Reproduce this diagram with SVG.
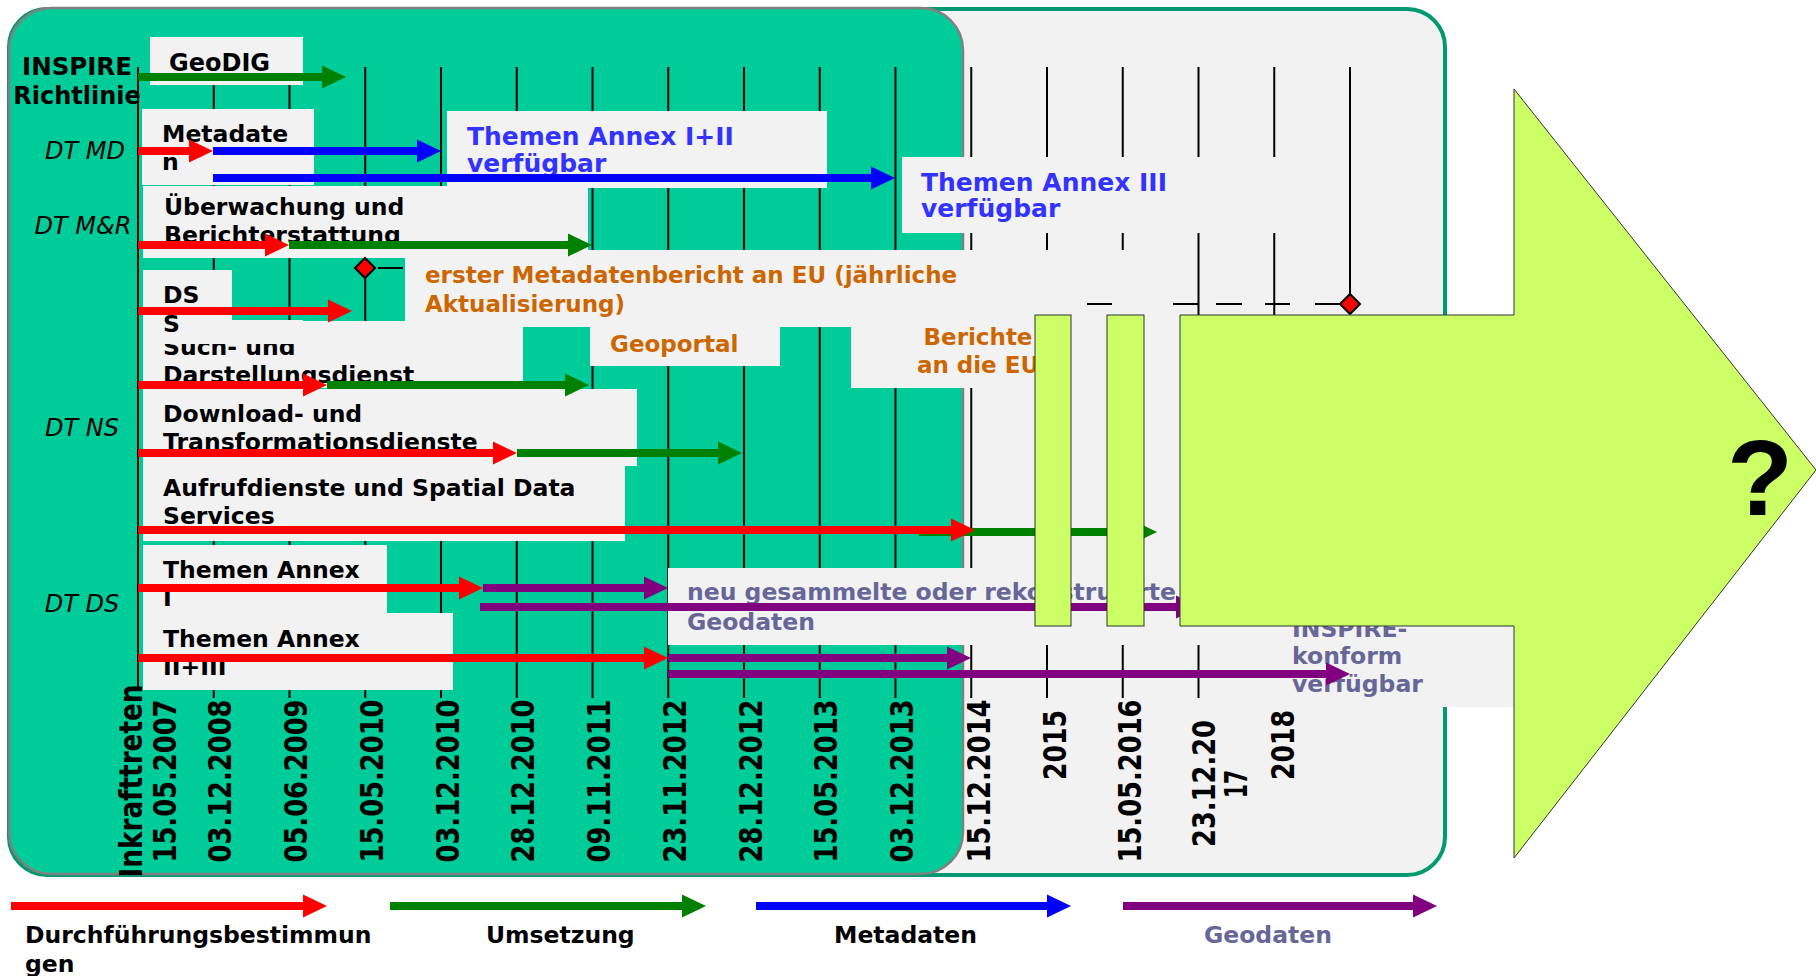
<svg xmlns="http://www.w3.org/2000/svg" width="1816" height="976" viewBox="0 0 1816 976">
<style>
.bx{fill:#F2F2F2}
.t{font-family:"DejaVu Sans",Verdana,sans-serif;font-weight:bold;font-size:23.5px;fill:#000}
.bl{fill:#3333FF;font-size:25px}
.or{fill:#CC6600;font-size:23px}
.sl{fill:#666699}
.it{font-family:"DejaVu Sans",Verdana,sans-serif;font-style:italic;font-size:24px;fill:#000}
.d{font-family:"DejaVu Sans",Verdana,sans-serif;font-weight:bold;font-size:32px;fill:#000;text-anchor:middle}
.gl{stroke:#000;stroke-width:2}
.a{stroke-width:8;fill:none}
.r{stroke:#FF0000}.g{stroke:#008000}.b{stroke:#0000FF}.p{stroke:#800080}
.lime{fill:#CCFF66;stroke:#333;stroke-width:1}
.dia{fill:#FF0000;stroke:#000;stroke-width:2}
</style>
<defs>
<marker id="mr" markerUnits="userSpaceOnUse" markerWidth="24" markerHeight="23" refX="2" refY="11.5" orient="auto" overflow="visible"><path d="M0,0 L24,11.5 L0,23 Z" fill="#FF0000"/></marker>
<marker id="mg" markerUnits="userSpaceOnUse" markerWidth="24" markerHeight="23" refX="2" refY="11.5" orient="auto" overflow="visible"><path d="M0,0 L24,11.5 L0,23 Z" fill="#008000"/></marker>
<marker id="mb" markerUnits="userSpaceOnUse" markerWidth="24" markerHeight="23" refX="2" refY="11.5" orient="auto" overflow="visible"><path d="M0,0 L24,11.5 L0,23 Z" fill="#0000FF"/></marker>
<marker id="mp" markerUnits="userSpaceOnUse" markerWidth="24" markerHeight="23" refX="2" refY="11.5" orient="auto" overflow="visible"><path d="M0,0 L24,11.5 L0,23 Z" fill="#800080"/></marker>
</defs>
<rect width="1816" height="976" fill="#FFFFFF"/>
<g id="frame">
<rect x="9" y="9" width="1436" height="866" rx="38" fill="#F2F2F2" stroke="#009970" stroke-width="4"/>
<rect x="9" y="8" width="954" height="866" rx="42" fill="#00CC99" stroke="#808080" stroke-width="2.5"/>
</g>
<g id="grid">
<line class="gl" x1="138" y1="67" x2="138" y2="690"/>
<line class="gl" x1="213.75" y1="67" x2="213.75" y2="698"/>
<line class="gl" x1="289.5" y1="67" x2="289.5" y2="698"/>
<line class="gl" x1="365.25" y1="67" x2="365.25" y2="698"/>
<line class="gl" x1="441" y1="67" x2="441" y2="698"/>
<line class="gl" x1="516.75" y1="67" x2="516.75" y2="698"/>
<line class="gl" x1="592.5" y1="67" x2="592.5" y2="698"/>
<line class="gl" x1="668.25" y1="67" x2="668.25" y2="698"/>
<line class="gl" x1="744" y1="67" x2="744" y2="698"/>
<line class="gl" x1="819.75" y1="67" x2="819.75" y2="698"/>
<line class="gl" x1="895.5" y1="67" x2="895.5" y2="698"/>
<line class="gl" x1="971.25" y1="67" x2="971.25" y2="698"/>
<line class="gl" x1="1047" y1="67" x2="1047" y2="698"/>
<line class="gl" x1="1122.75" y1="67" x2="1122.75" y2="698"/>
<line class="gl" x1="1198.5" y1="67" x2="1198.5" y2="698"/>
<line class="gl" x1="1274.25" y1="67" x2="1274.25" y2="698"/>
<line class="gl" x1="1350" y1="67" x2="1350" y2="304"/>
</g>
<g id="row-labels">
<text class="t" text-anchor="middle" x="77" y="75" style="font-size:24.5px">INSPIRE</text>
<text class="t" text-anchor="middle" x="77" y="104" style="font-size:24px">Richtlinie</text>
<text class="it" text-anchor="middle" x="85" y="159">DT MD</text>
<text class="it" text-anchor="middle" x="83" y="234">DT M&amp;R</text>
<text class="it" text-anchor="middle" x="82" y="436">DT NS</text>
<text class="it" text-anchor="middle" x="82" y="612">DT DS</text>
</g>
<g id="dates">
<text class="d" transform="translate(142,781) rotate(-90)" textLength="193" lengthAdjust="spacingAndGlyphs">Inkrafttreten</text>
<text class="d" transform="translate(175.5,781) rotate(-90)" textLength="163" lengthAdjust="spacingAndGlyphs">15.05.2007</text>
<text class="d" transform="translate(231,781) rotate(-90)" textLength="163" lengthAdjust="spacingAndGlyphs">03.12.2008</text>
<text class="d" transform="translate(307,781) rotate(-90)" textLength="163" lengthAdjust="spacingAndGlyphs">05.06.2009</text>
<text class="d" transform="translate(383,781) rotate(-90)" textLength="163" lengthAdjust="spacingAndGlyphs">15.05.2010</text>
<text class="d" transform="translate(458.5,781) rotate(-90)" textLength="163" lengthAdjust="spacingAndGlyphs">03.12.2010</text>
<text class="d" transform="translate(534,781) rotate(-90)" textLength="163" lengthAdjust="spacingAndGlyphs">28.12.2010</text>
<text class="d" transform="translate(610,781) rotate(-90)" textLength="163" lengthAdjust="spacingAndGlyphs">09.11.2011</text>
<text class="d" transform="translate(686,781) rotate(-90)" textLength="163" lengthAdjust="spacingAndGlyphs">23.11.2012</text>
<text class="d" transform="translate(761.5,781) rotate(-90)" textLength="163" lengthAdjust="spacingAndGlyphs">28.12.2012</text>
<text class="d" transform="translate(837,781) rotate(-90)" textLength="163" lengthAdjust="spacingAndGlyphs">15.05.2013</text>
<text class="d" transform="translate(913,781) rotate(-90)" textLength="163" lengthAdjust="spacingAndGlyphs">03.12.2013</text>
<text class="d" transform="translate(990,781) rotate(-90)" textLength="163" lengthAdjust="spacingAndGlyphs">15.12.2014</text>
<text class="d" transform="translate(1066,745) rotate(-90)" textLength="70" lengthAdjust="spacingAndGlyphs">2015</text>
<text class="d" transform="translate(1141,781) rotate(-90)" textLength="163" lengthAdjust="spacingAndGlyphs">15.05.2016</text>
<text class="d" transform="translate(1215,783.5) rotate(-90)" textLength="127" lengthAdjust="spacingAndGlyphs">23.12.20</text>
<text class="d" transform="translate(1247,784) rotate(-90)" textLength="28" lengthAdjust="spacingAndGlyphs">17</text>
<text class="d" transform="translate(1294,745) rotate(-90)" textLength="70" lengthAdjust="spacingAndGlyphs">2018</text>
</g>
<g id="node-geodig"><rect class="bx" x="150" y="37" width="153" height="48"/><text class="t" x="169" y="71" style="font-size:24px">GeoDIG</text></g>
<g id="node-metadaten"><rect class="bx" x="142" y="109" width="172" height="76"/><text class="t" x="162" y="142">Metadate</text><text class="t" x="162" y="170">n</text></g>
<g id="node-annex12"><rect class="bx" x="447" y="111" width="380" height="77"/><text class="t bl" x="467" y="145">Themen Annex I+II</text><text class="t bl" x="467" y="172">verfügbar</text></g>
<g id="node-annex3"><rect class="bx" x="902" y="157" width="408" height="76"/><text class="t bl" x="921" y="191">Themen Annex III</text><text class="t bl" x="921" y="217">verfügbar</text></g>
<g id="node-ueberwachung"><rect class="bx" x="143" y="186" width="445" height="72"/><text class="t" x="164" y="215">Überwachung und</text><text class="t" x="164" y="243">Berichterstattung</text></g>
<g id="node-geoportal"><rect class="bx" x="590" y="327" width="190" height="39"/><text class="t or" x="610" y="352">Geoportal</text></g>
<g id="node-berichte"><rect class="bx" x="851" y="327" width="250" height="61"/><text class="t or" text-anchor="middle" x="978" y="345">Berichte</text><text class="t or" text-anchor="middle" x="978" y="373">an die EU</text></g>
<g id="node-erster"><rect class="bx" x="405" y="250" width="755" height="77"/><text class="t or" x="425" y="283">erster Metadatenbericht an EU (jährliche</text><text class="t or" x="425" y="312">Aktualisierung)</text></g>
<g id="node-such"><rect class="bx" x="143" y="321" width="380" height="67"/><text class="t" x="163" y="355">Such- und</text><text class="t" x="163" y="383">Darstellungsdienst</text></g>
<g id="node-ds"><rect class="bx" x="143" y="270" width="89" height="51"/><rect class="bx" x="143" y="320" width="160" height="24"/><text class="t" x="163" y="303">DS</text><text class="t" x="163" y="332">S</text></g>
<g id="node-download"><rect class="bx" x="143" y="389" width="494" height="77"/><text class="t" x="163" y="422">Download- und</text><text class="t" x="163" y="450">Transformationsdienste</text></g>
<g id="node-aufruf"><rect class="bx" x="143" y="466" width="482" height="75"/><text class="t" x="163" y="496">Aufrufdienste und Spatial Data</text><text class="t" x="163" y="524">Services</text></g>
<g id="node-annex1"><rect class="bx" x="143" y="545" width="244" height="68"/><text class="t" x="163" y="578">Themen Annex</text><text class="t" x="163" y="606">I</text></g>
<g id="node-annex23"><rect class="bx" x="143" y="613" width="310" height="77"/><text class="t" x="163" y="647">Themen Annex</text><text class="t" x="163" y="675">II+III</text></g>
<g id="node-neu"><rect class="bx" x="668" y="568" width="532" height="77"/><text class="t sl" x="687" y="600">neu gesammelte oder rekonstruierte</text><text class="t sl" x="687" y="630">Geodaten</text></g>
<g id="node-inspire-konform"><rect class="bx" x="1255" y="624" width="259" height="83"/><text class="t sl" x="1292" y="637">INSPIRE-</text><text class="t sl" x="1292" y="664">konform</text><text class="t sl" x="1292" y="692">verfügbar</text></g>
<g id="milestones">
<line x1="378" y1="268" x2="403" y2="268" stroke="#000" stroke-width="2"/>
<path d="M1087,304H1112M1173,304H1198M1216,304H1242M1265,304H1290M1315,304H1340" stroke="#000" stroke-width="2"/>
<polygon class="dia" points="365,258 375,268 365,278 355,268"/>
<polygon class="dia" points="1350,294 1360,304 1350,314 1340,304"/>
</g>
<g id="connectors">
<line class="a g" x1="138" y1="77" x2="324" y2="77" marker-end="url(#mg)"/>
<line class="a b" x1="213" y1="151" x2="419" y2="151" marker-end="url(#mb)"/>
<line class="a r" x1="138" y1="151" x2="191" y2="151" marker-end="url(#mr)"/>
<line class="a b" x1="213" y1="178" x2="873" y2="178" marker-end="url(#mb)"/>
<line class="a g" x1="289" y1="245" x2="570" y2="245" marker-end="url(#mg)"/>
<line class="a r" x1="138" y1="245" x2="267" y2="245" marker-end="url(#mr)"/>
<line class="a r" x1="138" y1="311" x2="330" y2="311" marker-end="url(#mr)"/>
<line class="a g" x1="327" y1="385" x2="567" y2="385" marker-end="url(#mg)"/>
<line class="a r" x1="138" y1="385" x2="305" y2="385" marker-end="url(#mr)"/>
<line class="a g" x1="517" y1="453" x2="720" y2="453" marker-end="url(#mg)"/>
<line class="a r" x1="138" y1="453" x2="495" y2="453" marker-end="url(#mr)"/>
<line class="a g" x1="919" y1="532" x2="1135" y2="532" marker-end="url(#mg)"/>
<line class="a r" x1="138" y1="530" x2="953" y2="530" marker-end="url(#mr)"/>
<line class="a p" x1="483" y1="588" x2="646" y2="588" marker-end="url(#mp)"/>
<line class="a r" x1="138" y1="588" x2="461" y2="588" marker-end="url(#mr)"/>
<line class="a p" x1="480" y1="607" x2="1178" y2="607" marker-end="url(#mp)"/>
<line class="a p" x1="668" y1="658" x2="949" y2="658" marker-end="url(#mp)"/>
<line class="a r" x1="138" y1="658" x2="646" y2="658" marker-end="url(#mr)"/>
<line class="a p" x1="668" y1="674" x2="1328" y2="674" marker-end="url(#mp)"/>
</g>
<g id="future">
<rect class="lime" x="1035" y="315" width="36" height="311"/>
<rect class="lime" x="1107" y="315" width="37" height="311"/>
<polygon class="lime" points="1180,315 1514,315 1514,89 1816,470 1514,858 1514,626 1180,626"/>
<text x="1760" y="515" text-anchor="middle" font-family="'Liberation Sans',Arial,sans-serif" font-weight="bold" font-size="108" fill="#000">?</text>
</g>
<g id="legend">
<line class="a r" x1="11" y1="906" x2="305" y2="906" marker-end="url(#mr)"/>
<line class="a g" x1="390" y1="906" x2="684" y2="906" marker-end="url(#mg)"/>
<line class="a b" x1="756" y1="906" x2="1049" y2="906" marker-end="url(#mb)"/>
<line class="a p" x1="1123" y1="906" x2="1415" y2="906" marker-end="url(#mp)"/>
<text class="t" x="25" y="943">Durchführungsbestimmun</text>
<text class="t" x="25" y="972">gen</text>
<text class="t" x="486" y="943">Umsetzung</text>
<text class="t" x="834" y="943">Metadaten</text>
<text class="t sl" x="1204" y="943">Geodaten</text>
</g>
</svg>
